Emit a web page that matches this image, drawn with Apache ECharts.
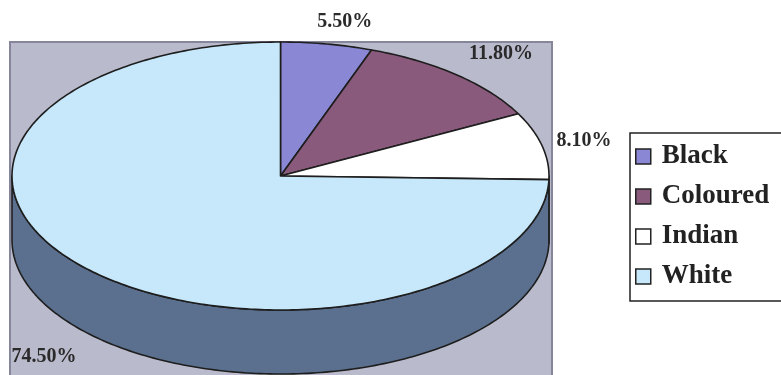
<!DOCTYPE html>
<html>
<head>
<meta charset="utf-8">
<script src="https://cdn.jsdelivr.net/npm/echarts@6/dist/echarts.min.js"></script>
<style>
  html, body { margin: 0; padding: 0; background: #ffffff; }
  #chart { width: 781px; height: 375px; }
</style>
</head>
<body>
<div id="chart"></div>
<script>
// Population shares by group
const categories = ['Black', 'Coloured', 'Indian', 'White'];
const shares = [5.5, 11.8, 8.1, 74.5];
const shareLabels = ['5.50%', '11.80%', '8.10%', '74.50%'];

// Face and wall colours per group
const topColors = ['#8a87d5', '#8a5a7c', '#ffffff', '#c6e8fa'];
const sideColors = ['#54528a', '#5a3a52', '#b8b8b8', '#5b6f8e'];

// Tilted-disc geometry (pixels)
const CX = 280.5, CY = 176, RX = 268.5, RY = 134, DEPTH = 64;
// Label nudges away from each slice's rim midpoint
const labelNudge = [[18, -22], [44, -21], [42, -5], [-44, 87]];

const total = shares.reduce((a, b) => a + b, 0);
const starts = [];
let acc = 0;
shares.forEach(v => { starts.push(acc / total * 360); acc += v; });

function rimPoint(deg, dy) {
  const r = deg * Math.PI / 180;
  return [CX + RX * Math.sin(r), CY - RY * Math.cos(r) + (dy || 0)];
}
function rimArc(a0, a1, dy) {
  const n = Math.max(2, Math.ceil(Math.abs(a1 - a0)));
  const pts = [];
  for (let k = 0; k <= n; k++) pts.push(rimPoint(a0 + (a1 - a0) * k / n, dy));
  return pts;
}

function makeRenderer(i) {
  return function (params, api) {
    const a0 = starts[i];
    const a1 = a0 + api.value(0) / total * 360;
    const children = [];
    // front wall: only the part facing the viewer (90..270 degrees)
    const v0 = Math.max(a0, 90), v1 = Math.min(a1, 270);
    if (v1 > v0) {
      const wall = rimArc(v0, v1, 0).concat(rimArc(v1, v0, DEPTH));
      children.push({
        type: 'polygon', z2: 1,
        shape: { points: wall },
        style: { fill: sideColors[i], stroke: '#1e1e1e', lineWidth: 1.6, lineJoin: 'round' }
      });
    }
    // top face
    children.push({
      type: 'polygon', z2: 10,
      shape: { points: [[CX, CY]].concat(rimArc(a0, a1, 0)) },
      style: { fill: topColors[i], stroke: '#1e1e1e', lineWidth: 1.6, lineJoin: 'round' }
    });
    // percentage label
    const mid = rimPoint((a0 + a1) / 2, 0);
    children.push({
      type: 'text', z2: 20,
      x: mid[0] + labelNudge[i][0], y: mid[1] + labelNudge[i][1],
      style: {
        text: shareLabels[i],
        font: 'bold 20px "Liberation Serif", "Times New Roman", serif',
        fill: '#2a2a2a', align: 'center', verticalAlign: 'middle'
      }
    });
    return { type: 'group', children: children };
  };
}

const chart = echarts.init(document.getElementById('chart'), null, { renderer: 'canvas' });
chart.setOption({
  animation: false,
  color: topColors,
  graphic: [{
    type: 'rect', z: -10,
    shape: { x: 10, y: 42, width: 542, height: 360 },
    style: { fill: '#b9bacb', stroke: '#85869a', lineWidth: 2 }
  }],
  legend: {
    data: categories,
    orient: 'vertical',
    left: 630, top: 133,
    padding: [10, 24, 11, 5],
    itemGap: 13,
    itemWidth: 15, itemHeight: 15,
    icon: 'rect',
    borderColor: '#222', borderWidth: 1.5,
    backgroundColor: '#ffffff',
    selectedMode: false,
    itemStyle: { borderColor: '#222', borderWidth: 1.5 },
    textStyle: {
      fontFamily: '"Liberation Serif", "Times New Roman", serif',
      fontWeight: 'bold', fontSize: 27, color: '#222',
      lineHeight: 27, padding: [0, 0, 0, 6]
    }
  },
  series: categories.map((name, i) => ({
    type: 'custom',
    name: name,
    coordinateSystem: 'none',
    silent: true,
    itemStyle: { color: topColors[i] },
    data: [[shares[i]]],
    renderItem: makeRenderer(i)
  }))
});
</script>
</body>
</html>
